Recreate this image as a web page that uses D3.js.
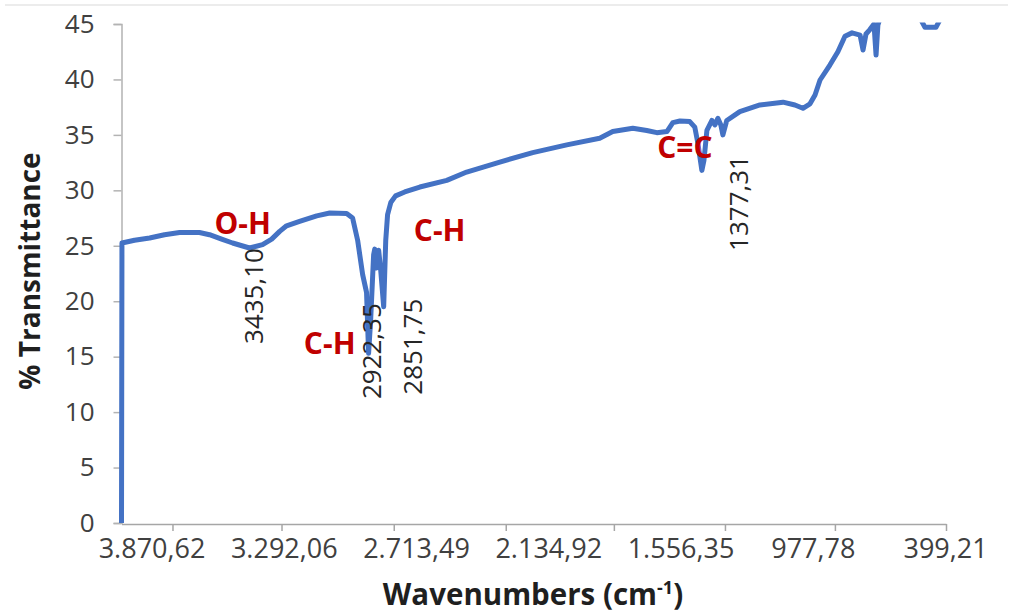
<!DOCTYPE html>
<html>
<head>
<meta charset="utf-8">
<script src="https://cdn.jsdelivr.net/npm/d3@7"></script>
<style>
  html, body { margin: 0; padding: 0; background: #ffffff; }
  svg { display: block; }
</style>
</head>
<body>
<svg id="chart" width="1013" height="615"></svg>
<script>
// ---------- data ----------
const wavenumbers = [4002, 4000, 3945, 3879, 3814, 3748, 3661, 3617, 3564, 3516, 3442, 3385, 3345, 3310, 3280, 3223, 3148, 3091, 3017, 2991,
  2969, 2947, 2930, 2921, 2912, 2899, 2894, 2886, 2877, 2868, 2855, 2846, 2838, 2824, 2803, 2763, 2697, 2579, 2492, 2347,
  2203, 2054, 1910, 1853, 1765, 1704, 1660, 1616, 1590, 1559, 1516, 1494, 1481, 1463, 1454, 1441, 1419, 1406, 1393, 1380,
  1371, 1354, 1297, 1209, 1108, 1056, 1021, 990, 968, 946, 903, 868, 837, 806, 771, 758, 745, 728, 710, 701,
  693, 679, 640, 531, 500, 487, 439, 421, 395];
const transmittance = [0, 25.25, 25.5, 25.7, 26.0, 26.2, 26.2, 26.0, 25.6, 25.25, 24.8, 25.1, 25.6, 26.3, 26.8, 27.2, 27.7, 27.95, 27.9, 27.5,
  25.5, 22.4, 20.8, 15.3, 18.3, 24.2, 24.7, 23.0, 24.6, 22.8, 19.5, 25.5, 27.8, 28.9, 29.5, 29.85, 30.3, 30.9, 31.65, 32.55,
  33.4, 34.1, 34.7, 35.3, 35.6, 35.4, 35.2, 35.3, 36.1, 36.25, 36.2, 35.7, 34.3, 31.8, 32.7, 35.4, 36.3, 35.9, 36.5, 35.9,
  35.0, 36.3, 37.1, 37.7, 37.95, 37.7, 37.4, 37.8, 38.6, 39.95, 41.3, 42.5, 43.9, 44.2, 44.0, 42.65, 44.1, 44.5, 45.0, 42.2,
  44.9, 45.8, 47.2, 46.7, 45.2, 44.7, 44.7, 45.4, 46.3];

const xDomain = [4002, 395];
const yDomain = [0, 45];
const yTicks = [0, 5, 10, 15, 20, 25, 30, 35, 40, 45];
const xLabelValues = [3870.62, 3292.06, 2713.49, 2134.92, 1556.35, 977.78, 399.21];
const xTickMarkValues = [3779, 3302, 2811, 2321, 1848, 1362, 881, 395];

const peakLabels = ["3435,10", "2922,35", "2851,75", "1377,31"];
const peakWn = [3424, 2908, 2728, 1301];
const peakT = [20.47, 15.5, 15.9, 28.86];

const groupLabels = ["O-H", "C-H", "C-H", "C=C"];
const groupWn = [3472, 3091, 2610, 1537];
const groupT = [27.05, 16.23, 26.42, 33.9];

const xTitle = "Wavenumbers (cm";
const xTitleSup = "-1";
const yTitle = "% Transmittance";

// ---------- drawing ----------
const svg = d3.select("#chart");
const FONT = "'Open Sans', 'DejaVu Sans', sans-serif";

const x = d3.scaleLinear().domain(xDomain).range([121.5, 946]);
const y = d3.scaleLinear().domain(yDomain).range([523, 24]);

// faint top border
svg.append("line")
  .attr("x1", 5).attr("x2", 1008).attr("y1", 5).attr("y2", 5)
  .attr("stroke", "#e6e6e6").attr("stroke-width", 1.5);

// Y axis
const yAxis = svg.append("g")
  .attr("transform", `translate(${x(xDomain[0])},0)`)
  .call(d3.axisLeft(y).tickValues(yTicks).tickSize(8).tickPadding(19));
yAxis.select(".domain").attr("stroke", "#b3b3b3").attr("stroke-width", 1.5);
yAxis.selectAll(".tick line").attr("stroke", "#b3b3b3").attr("stroke-width", 1.5);
yAxis.selectAll(".tick text")
  .attr("font-family", FONT).attr("font-size", 26).attr("fill", "#404040");

// X axis: tick marks
const xMarks = svg.append("g")
  .attr("transform", `translate(0,${y(0) + 1})`)
  .call(d3.axisBottom(x).tickValues(xTickMarkValues).tickSize(7).tickSizeOuter(0).tickFormat(""));
xMarks.select(".domain").attr("stroke", "#a6a6a6").attr("stroke-width", 1.5);
xMarks.selectAll(".tick line").attr("stroke", "#a6a6a6").attr("stroke-width", 1.5);

// X axis: labels
const loc = d3.formatLocale({decimal: ",", thousands: ".", grouping: [3], currency: ["", ""]});
const fmt = loc.format(",.2f");
const xLabs = svg.append("g")
  .attr("transform", `translate(0,${y(0) + 1})`)
  .call(d3.axisBottom(x).tickValues(xLabelValues).tickSize(0).tickFormat(fmt));
xLabs.select(".domain").remove();
xLabs.selectAll(".tick text")
  .attr("y", 34).attr("dy", 0)
  .attr("font-family", FONT).attr("font-size", 27).attr("fill", "#404040");

// clip
svg.append("defs").append("clipPath").attr("id", "plotclip")
  .append("rect").attr("x", 100).attr("y", y(45) - 1.5).attr("width", 900).attr("height", 540);

// spectrum line
const pts = wavenumbers.map((w, i) => [w, transmittance[i]]);
svg.append("path")
  .datum(pts)
  .attr("clip-path", "url(#plotclip)")
  .attr("fill", "none")
  .attr("stroke", "#4472C4")
  .attr("stroke-width", 5)
  .attr("stroke-linejoin", "round")
  .attr("stroke-linecap", "butt")
  .attr("d", d3.line().x(d => x(d[0])).y(d => y(d[1])));

// peak value labels (rotated)
peakLabels.forEach((t, i) => {
  svg.append("text")
    .attr("transform", `translate(${x(peakWn[i])},${y(peakT[i])}) rotate(-90)`)
    .attr("text-anchor", "middle").attr("dy", "0.36em")
    .attr("font-family", FONT).attr("font-size", 26).attr("fill", "#262626")
    .text(t);
});

// functional group labels
groupLabels.forEach((t, i) => {
  svg.append("text")
    .attr("x", x(groupWn[i])).attr("y", y(groupT[i]))
    .attr("text-anchor", "middle").attr("dy", "0.36em")
    .attr("font-family", FONT).attr("font-size", 30).attr("font-weight", "bold")
    .attr("fill", "#C00000")
    .text(t);
});

// axis titles
const xt = svg.append("text")
  .attr("x", 533).attr("y", 605)
  .attr("text-anchor", "middle")
  .attr("font-family", FONT).attr("font-size", 29.5).attr("font-weight", "bold").attr("fill", "#1f1f1f");
xt.append("tspan").text(xTitle);
xt.append("tspan").attr("font-size", 18).attr("dy", -11).text(xTitleSup);
xt.append("tspan").attr("dy", 11).text(")");

svg.append("text")
  .attr("transform", "translate(30,271) rotate(-90)")
  .attr("text-anchor", "middle").attr("dy", "0.36em")
  .attr("font-family", FONT).attr("font-size", 28).attr("font-weight", "bold").attr("fill", "#1f1f1f")
  .text(yTitle);
</script>
</body>
</html>
